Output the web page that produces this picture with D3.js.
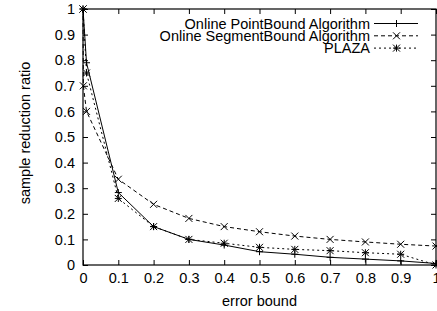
<!DOCTYPE html>
<html><head><meta charset="utf-8">
<script src="https://cdn.jsdelivr.net/npm/d3@7"></script>
<style>body{margin:0;background:#fff}svg{display:block}text{font-family:"Liberation Sans",Arial,sans-serif;fill:#000}</style>
</head><body>
<svg id="c" width="437" height="311"></svg>
<script>
const xTicks = [0,0.1,0.2,0.3,0.4,0.5,0.6,0.7,0.8,0.9,1];
const yTicks = [0,0.1,0.2,0.3,0.4,0.5,0.6,0.7,0.8,0.9,1];
const xPoint = [0,0.01,0.1,0.2,0.3,0.4,0.5,0.6,0.7,0.8,0.9,1];
const pointBound = [1,0.79,0.283,0.15,0.10,0.078,0.052,0.042,0.030,0.023,0.016,0.006];
const xSegment = [0,0.001,0.01,0.1,0.2,0.3,0.4,0.5,0.6,0.7,0.8,0.9,1];
const segmentBound = [1,0.70,0.60,0.335,0.237,0.182,0.150,0.130,0.113,0.100,0.090,0.081,0.074];
const xPlaza = [0,0.01,0.1,0.2,0.3,0.4,0.5,0.6,0.7,0.8,0.9,1];
const plaza = [1,0.75,0.26,0.15,0.10,0.085,0.069,0.061,0.056,0.048,0.042,0.0];
const seriesNames = ["Online PointBound Algorithm","Online SegmentBound Algorithm","PLAZA"];

const FS = "14.5px";
const svg = d3.select("#c");
const L=83, R=436, T=9, B=265;
const x = d3.scaleLinear().domain([0,1]).range([L,R]);
const y = d3.scaleLinear().domain([0,1]).range([B,T]);
const fmt = d => d===0?"0":d===1?"1":d3.format(".1f")(d);

const gx = svg.append("g").attr("transform",`translate(0,${B})`)
  .call(d3.axisBottom(x).tickValues(xTicks).tickFormat(fmt).tickSize(-5).tickPadding(8));
const gxt = svg.append("g").attr("transform",`translate(0,${T})`)
  .call(d3.axisTop(x).tickValues(xTicks).tickFormat("").tickSize(-5));
const gy = svg.append("g").attr("transform",`translate(${L},0)`)
  .call(d3.axisLeft(y).tickValues(yTicks).tickFormat(fmt).tickSize(-5).tickPadding(8));
const gyr = svg.append("g").attr("transform",`translate(${R},0)`)
  .call(d3.axisRight(y).tickValues(yTicks).tickFormat("").tickSize(-5));
[gx,gxt,gy,gyr].forEach(g=>{
  g.select(".domain").remove();
  g.selectAll("line").attr("stroke","#000").attr("stroke-width",1);
  g.selectAll("text").style("font-size",FS).attr("fill","#000");
});
svg.append("rect").attr("x",L).attr("y",T).attr("width",R-L).attr("height",B-T)
  .attr("fill","none").attr("stroke","#000").attr("stroke-width",1.2);

svg.append("text").attr("x",(L+R)/2).attr("y",306).attr("text-anchor","middle")
  .style("font-size",FS).text("error bound");
svg.append("text").attr("transform",`translate(30,133) rotate(-90)`).attr("text-anchor","middle")
  .style("font-size",FS).text("sample reduction ratio");

const series = [
  {xs:xPoint, ys:pointBound, dash:null, marker:"plus"},
  {xs:xSegment, ys:segmentBound, dash:"4,3", marker:"cross"},
  {xs:xPlaza, ys:plaza, dash:"2,3", marker:"star"}
];
const plot = svg.append("g");
function marker(g, cx, cy, type){
  const s=3.5;
  let d="";
  if(type==="plus"||type==="star") d+=`M${cx-s},${cy}H${cx+s}M${cx},${cy-s}V${cy+s}`;
  if(type==="cross"||type==="star") d+=`M${cx-s},${cy-s}L${cx+s},${cy+s}M${cx-s},${cy+s}L${cx+s},${cy-s}`;
  g.append("path").attr("fill","none").attr("stroke","#000").attr("stroke-width",1).attr("d",d);
}
series.forEach((s,i)=>{
  const line = d3.line().x((d,j)=>x(s.xs[j])).y(d=>y(d));
  const path = plot.append("path").datum(s.ys).attr("d",line).attr("fill","none")
    .attr("stroke","#000").attr("stroke-width",1);
  if(s.dash) path.attr("stroke-dasharray",s.dash);
  s.ys.forEach((v,j)=>marker(plot, x(s.xs[j]), y(v), s.marker));
  const ly = 23.5 + i*12.3;
  svg.append("text").attr("x",370).attr("y",ly).attr("dy","0.35em").attr("text-anchor","end")
    .style("font-size",FS).text(seriesNames[i]);
  const lp = svg.append("line").attr("x1",374).attr("x2",418).attr("y1",ly).attr("y2",ly)
    .attr("stroke","#000").attr("stroke-width",1);
  if(s.dash) lp.attr("stroke-dasharray",s.dash);
  marker(svg, 396.5, ly, s.marker);
});
</script>
</body></html>
